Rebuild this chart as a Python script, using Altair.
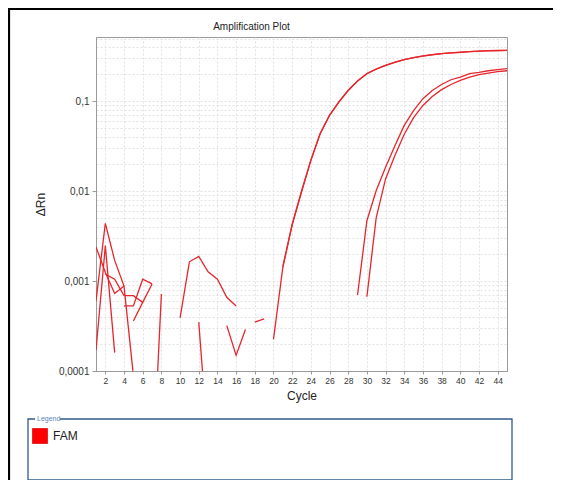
import altair as alt
import pandas as pd

N = None
cycles = list(range(1, 46))

# Delta Rn per well (None = not shown on the log plot)
well_A1 = [0.00060, 0.0044, 0.0017, 0.00088, 0.00009, N, N, N, N, 0.00039,
           0.00164, 0.00188, 0.00127, 0.00105, 0.00066, 0.00053, N, N, N, 0.000225,
           0.00142, 0.0042, 0.0098, 0.0219, 0.0436, 0.0697, 0.098, 0.132, 0.168, 0.203,
           0.228, 0.251, 0.272, 0.291, 0.306, 0.319, 0.330, 0.340, 0.346, 0.351,
           0.357, 0.363, 0.365, 0.367, 0.369]
well_A2 = [0.00240, 0.00125, 0.00073, 0.00088, N, N, 0.000005, 0.00072, N, N,
           N, 0.00035, 0.000015, N, N, N, N, 0.00035, 0.00038, N,
           0.00145, 0.0043, 0.0100, 0.0222, 0.0440, 0.0700, 0.0985, 0.133, 0.169, 0.204,
           0.229, 0.252, 0.273, 0.292, 0.307, 0.320, 0.331, 0.340, 0.347, 0.352,
           0.358, 0.363, 0.366, 0.368, 0.370]
well_B1 = [0.00017, 0.00248, 0.00016, N, N, N, N, N, N, N,
           N, N, N, N, 0.00032, 0.00015, 0.00029, N, N, N,
           N, N, N, N, N, N, N, N, 0.00070, 0.0047,
           0.0102, 0.0185, 0.032, 0.054, 0.079, 0.107, 0.132, 0.154, 0.174, 0.186,
           0.203, 0.210, 0.219, 0.225, 0.231]
well_B2 = [N, 0.00120, 0.00105, 0.00069, 0.00069, 0.00058, N, N, N, N,
           N, N, N, N, N, N, N, N, N, N,
           N, N, N, N, N, N, N, N, N, 0.00067,
           0.0051, 0.0137, 0.025, 0.043, 0.066, 0.090, 0.113, 0.135, 0.154, 0.171,
           0.186, 0.198, 0.206, 0.214, 0.219]
well_N1 = [N, N, N, 0.00053, 0.00053, 0.00105, 0.00093] + [N] * 38
well_N2 = [N, N, N, N, 0.00036, 0.00058, 0.00093] + [N] * 38

wells = {"A1": well_A1, "A2": well_A2, "B1": well_B1, "B2": well_B2,
         "N1": well_N1, "N2": well_N2}

y_grid = [float(f"{k}e{e}") for e in (-4, -3, -2, -1) for k in range(1, 10)]
y_grid = [v for v in y_grid if v <= 0.5]
x_ticks = list(range(2, 45, 2))

rows = []
for name, vals in wells.items():
    seg = 0
    prev = None
    for c, v in zip(cycles, vals):
        if v is None:
            prev = None
            continue
        if prev is None:
            seg += 1
        rows.append({"well": name, "seg": f"{name}-{seg}", "cycle": c, "dRn": v, "dye": "FAM"})
        prev = v
df = pd.DataFrame(rows)

FONT = "Liberation Sans"
LINE_RED = "#e6262c"
decade_test = "abs(log(datum.value)/LN10 - round(log(datum.value)/LN10)) < 0.001"

lines = alt.Chart(df).mark_line(clip=True, strokeWidth=1.3).encode(
    x=alt.X("cycle:Q", scale=alt.Scale(domain=[1, 45], nice=False, zero=False),
            axis=alt.Axis(values=x_ticks, title="Cycle", labelFontSize=8.5, tickSize=3,
                          labelPadding=2, titlePadding=6, titleFontSize=12)),
    y=alt.Y("dRn:Q", scale=alt.Scale(type="log", domain=[0.0001, 0.52], nice=False),
            axis=alt.Axis(values=y_grid,
                          labelExpr=decade_test + " ? replace(format(datum.value, '~g'), '.', ',') : ''",
                          tickOpacity={"condition": {"test": decade_test, "value": 1}, "value": 0},
                          title="ΔRn", tickSize=4, labelPadding=3, labelFontSize=10,
                          titleFontSize=12, titlePadding=11)),
    detail="seg:N",
    color=alt.Color("dye:N", scale=alt.Scale(domain=["FAM"], range=[LINE_RED]),
                    legend=alt.Legend(title=None, orient="none", legendX=-64, legendY=391,
                                      symbolType="square", symbolSize=225,
                                      symbolFillColor="#ff0000", symbolStrokeColor="#e00000",
                                      symbolStrokeWidth=1, labelFontSize=12, labelColor="#222",
                                      labelFont=FONT, labelOffset=5, padding=0)),
)

one = pd.DataFrame({"k": [0]})
box = alt.Chart(one).mark_rect(fill="white", stroke="#2e5c8a", strokeWidth=1.3).encode(
    x=alt.value(-68), x2=alt.value(416), y=alt.value(382), y2=alt.value(443))
cap_bg = alt.Chart(one).mark_rect(fill="white").encode(
    x=alt.value(-61), x2=alt.value(-36), y=alt.value(378), y2=alt.value(386))
cap = alt.Chart(one).mark_text(text="Legend", align="left", baseline="middle", fontSize=7,
                               color="#5b86b8", font=FONT).encode(
    x=alt.value(-59), y=alt.value(382))
frame_top = alt.Chart(one).mark_rule(color="black", strokeWidth=2.2).encode(
    x=alt.value(-88), x2=alt.value(457), y=alt.value(-28))
frame_left = alt.Chart(one).mark_rule(color="black", strokeWidth=2.2).encode(
    x=alt.value(-87), y=alt.value(-29), y2=alt.value(443))

chart = alt.layer(box, cap_bg, cap, frame_top, frame_left, lines).properties(
    width=411, height=334,
    title=alt.Title("Amplification Plot", fontSize=10, font=FONT, fontWeight="normal",
                    color="#222", anchor="middle", dx=-50, offset=7, dy=32),
    autosize=alt.AutoSizeParams(type="none"),
    padding={"left": 88, "top": 29, "right": 46, "bottom": 109},
).configure_view(stroke="#9a9a9a", strokeWidth=1).configure_axis(
    domainColor="#9a9a9a", gridColor="#dadada", gridDash=[2, 2], gridWidth=0.8,
    tickColor="#9a9a9a", labelColor="#333", titleColor="#222", labelFont=FONT,
    titleFont=FONT, titleFontWeight="normal")

chart.save("out.html", embed_options={"renderer": "svg", "actions": False})
